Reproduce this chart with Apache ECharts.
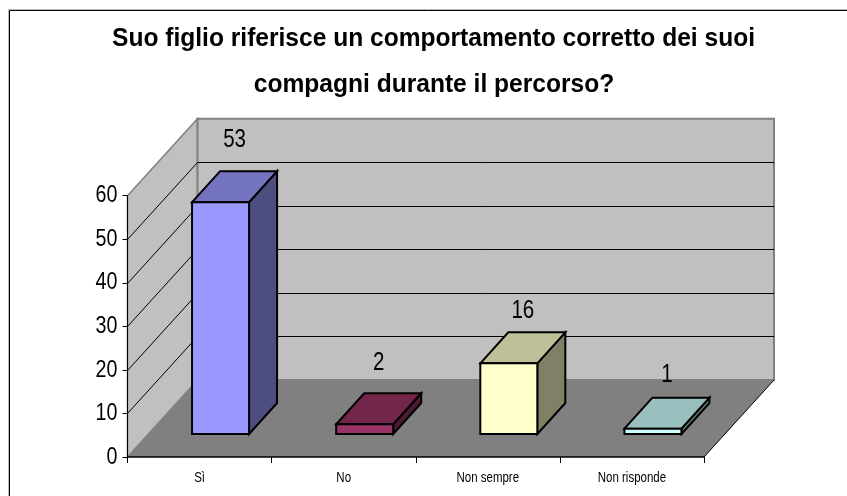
<!DOCTYPE html>
<html><head><meta charset="utf-8">
<style>html,body{margin:0;padding:0;background:#fff}#c{width:847px;height:496px}</style>
<script src="https://cdn.jsdelivr.net/npm/echarts@6/dist/echarts.min.js"></script>
</head><body><div id="c"></div>
<script>
const categories = ['Sì', 'No', 'Non sempre', 'Non risponde'];
const values = [53, 2, 16, 1];
const yTicks = [0, 10, 20, 30, 40, 50, 60];
const frontColors = ['#9999ff', '#993366', '#ffffcc', '#ccffff'];
const topColors = ['#7373bf', '#732649', '#bfbf99', '#99bfbf'];
const sideColors = ['#4d4d80', '#4d1a33', '#808066', '#668080'];
const titleLines = ['Suo figlio riferisce un comportamento corretto dei suoi', 'compagni durante il percorso?'];

const FONT = '"Liberation Sans"';
const SQUEEZE = 0.82;
const DEPTH_X = 70, DEPTH_Y = -77;
const BAR_W = 57, BAR_DX = 28, BAR_DY = -31, BAR_SX = 21, BAR_SY = -23, BAR_PAD = 1;
const LABEL_DX = 35, LABEL_NUDGE = [-86, -85, -76, -78];

function poly(pts, fill, stroke, lw) {
  return { type: 'polygon', shape: { points: pts }, style: { fill: fill, stroke: stroke || null, lineWidth: lw || 0, lineJoin: 'miter' } };
}
function line(a, b, color, lw) {
  return { type: 'line', shape: { x1: a[0], y1: a[1], x2: b[0], y2: b[1] }, style: { stroke: color, lineWidth: lw, fill: null } };
}
function squeezed(x, y, str, size, align) {
  return { type: 'text', x: x, y: y, scaleX: SQUEEZE,
    style: { text: str, fill: '#000', font: size + 'px ' + FONT, align: align, verticalAlign: 'middle' } };
}
function renderWalls(params, api) {
  const catW = api.size([1, 0])[0];
  const x0 = api.coord([0, 0])[0] - catW / 2;
  const x1 = x0 + catW * categories.length;
  const yB = api.coord([0, yTicks[0]])[1];
  const yT = api.coord([0, yTicks[yTicks.length - 1]])[1];
  const ch = [];
  ch.push(poly([[x0, yB], [x0 + DEPTH_X, yB + DEPTH_Y], [x0 + DEPTH_X, yT + DEPTH_Y], [x0, yT]], '#c0c0c0', '#808080', 1.5));
  ch.push(poly([[x0 + DEPTH_X, yB + DEPTH_Y], [x1 + DEPTH_X, yB + DEPTH_Y], [x1 + DEPTH_X, yT + DEPTH_Y], [x0 + DEPTH_X, yT + DEPTH_Y]], '#c0c0c0', '#808080', 2));
  yTicks.slice(1, -1).forEach(function (t) {
    const y = Math.round(api.coord([0, t])[1]) + 0.5;
    ch.push(line([x0, y], [x0 + DEPTH_X, y + DEPTH_Y], '#000', 1));
    ch.push(line([x0 + DEPTH_X, y + DEPTH_Y], [x1 + DEPTH_X, y + DEPTH_Y], '#000', 1));
  });
  ch.push(poly([[x0, yB], [x0 + DEPTH_X, yB + DEPTH_Y], [x1 + DEPTH_X, yB + DEPTH_Y], [x1, yB]], '#808080'));
  ch.push(line([x1, yB], [x1 + DEPTH_X, yB + DEPTH_Y], '#000', 1));
  yTicks.forEach(function (t) {
    ch.push(squeezed(x0 - 10, api.coord([0, t])[1], String(t), 24, 'right'));
  });
  categories.forEach(function (c, i) {
    ch.push(squeezed(api.coord([i, 0])[0], yB + 21, c, 14, 'center'));
  });
  return { type: 'group', children: ch };
}
function renderBar(params, api) {
  const i = api.value(0), v = api.value(1);
  const cx = api.coord([i, 0])[0] + BAR_SX;
  const yb = api.coord([i, 0])[1] + BAR_SY;
  const yt = api.coord([i, v])[1] + BAR_SY - BAR_PAD;
  const l = cx - BAR_W / 2, r = cx + BAR_W / 2;
  const S = '#000', W = 2;
  const ch = [
    poly([[r, yb], [r + BAR_DX, yb + BAR_DY], [r + BAR_DX, yt + BAR_DY], [r, yt]], sideColors[i], S, W),
    poly([[l, yt], [l + BAR_DX, yt + BAR_DY], [r + BAR_DX, yt + BAR_DY], [r, yt]], topColors[i], S, W),
    poly([[l, yb], [r, yb], [r, yt], [l, yt]], frontColors[i], S, W),
    squeezed(api.coord([i, 0])[0] + LABEL_DX, api.coord([i, v])[1] + LABEL_NUDGE[i], String(v), 25, 'center')
  ];
  return { type: 'group', children: ch };
}
const chart = echarts.init(document.getElementById('c'), null, { renderer: 'canvas' });
chart.setOption({
  animation: false,
  backgroundColor: '#fff',
  grid: { left: 127.5, right: 143, top: 195.7, bottom: 39 },
  xAxis: { type: 'category', data: categories, z: 5,
    axisLine: { lineStyle: { color: '#000', width: 1.5 } },
    axisTick: { show: true, alignWithLabel: false, length: 6, lineStyle: { color: '#000' } },
    axisLabel: { show: false } },
  yAxis: { type: 'value', min: 0, max: 60, interval: 10, z: 5,
    splitLine: { show: false },
    axisLine: { show: true, lineStyle: { color: '#000', width: 1 } },
    axisTick: { show: true, length: 5, lineStyle: { color: '#000' } },
    axisLabel: { show: false } },
  series: [
    { type: 'custom', name: 'walls', data: [[0, 0]], clip: false, z: 1, silent: true, encode: { x: 0, y: 1 }, renderItem: renderWalls },
    { type: 'custom', name: 'values', data: values.map(function (v, i) { return [i, v]; }), clip: false, z: 3, encode: { x: 0, y: 1 }, renderItem: renderBar }
  ],
  graphic: [
    { type: 'rect', shape: { x: 8.5, y: 9.5, width: 900, height: 600 }, style: { fill: null, stroke: '#bbb', lineWidth: 1 }, z: 9, silent: true },
    { type: 'rect', shape: { x: 9.5, y: 10.5, width: 900, height: 600 }, style: { fill: null, stroke: '#000', lineWidth: 1 }, z: 10, silent: true },
    { type: 'text', x: 433.5, y: 39, scaleX: 0.945, z: 10, silent: true,
      style: { text: titleLines[0], fill: '#000', font: 'bold 26px ' + FONT, align: 'center', verticalAlign: 'middle' } },
    { type: 'text', x: 434, y: 84.5, scaleX: 0.945, z: 10, silent: true,
      style: { text: titleLines[1], fill: '#000', font: 'bold 26px ' + FONT, align: 'center', verticalAlign: 'middle' } }
  ]
});
</script></body></html>
